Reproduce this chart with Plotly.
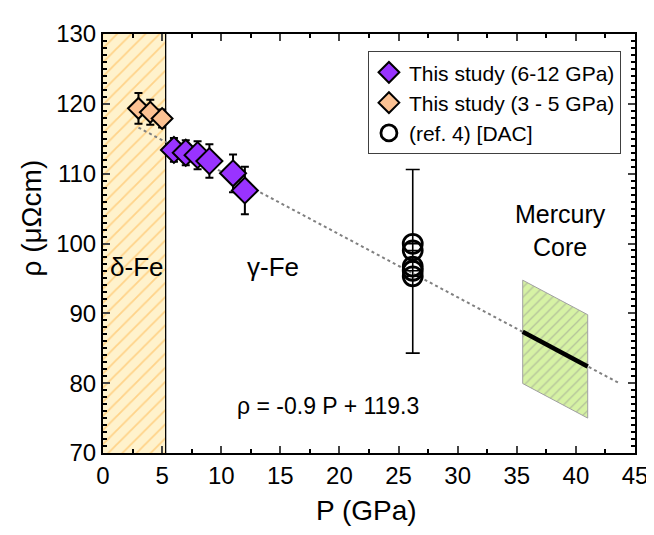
import plotly.graph_objects as go

# Data
p_high = [6, 7, 8, 9, 11, 12]
rho_high = [113.4, 113.0, 112.65, 111.8, 110.05, 107.6]
err_high = [1.7, 1.8, 2.0, 2.4, 2.7, 3.4]

p_low = [3, 4, 5]
rho_low = [119.35, 118.8, 117.9]
err_low = [2.2, 1.8, 1.3]

p_dac = [26.2, 26.2, 26.2, 26.2, 26.2]
rho_dac = [99.96, 99.0, 96.7, 96.1, 95.3]
err_dac_plus = [0, 0, 13.9, 0, 0]
err_dac_minus = [0, 0, 12.4, 0, 0]

fit_slope = -0.9
fit_intercept = 119.3
fit_range = [3, 43.7]

delta_range = [0, 5.3]
mercury_range = [35.5, 41.0]
mercury_halfwidth = 7.4

font = "Liberation Sans, Arial, sans-serif"
fig = go.Figure()

# delta-Fe hatched region
fig.add_trace(go.Scatter(
    x=[delta_range[0], delta_range[1], delta_range[1], delta_range[0], delta_range[0]],
    y=[70, 70, 130, 130, 70], mode="lines", fill="toself",
    line=dict(width=0, color="rgba(0,0,0,0)"),
    fillcolor="#fff2cc",
    fillpattern=dict(shape="/", fgcolor="#ffb445", bgcolor="#fff2cc", size=10, solidity=0.18),
    showlegend=False, hoverinfo="skip"))
fig.add_trace(go.Scatter(x=[delta_range[1], delta_range[1]], y=[70, 130], mode="lines",
                         line=dict(color="black", width=1.3), showlegend=False, hoverinfo="skip"))

# Fit line
fx = fit_range
fy = [fit_slope * v + fit_intercept for v in fx]
fig.add_trace(go.Scatter(x=fx, y=fy, mode="lines", line=dict(color="#808080", width=2, dash="dot"),
                         showlegend=False, hoverinfo="skip"))

# Mercury core parallelogram
m0, m1 = mercury_range
y0 = fit_slope * m0 + fit_intercept
y1 = fit_slope * m1 + fit_intercept
fig.add_trace(go.Scatter(
    x=[m0, m1, m1, m0, m0],
    y=[y0 + mercury_halfwidth, y1 + mercury_halfwidth, y1 - mercury_halfwidth, y0 - mercury_halfwidth, y0 + mercury_halfwidth],
    mode="lines", fill="toself", line=dict(color="#a0a0a0", width=1),
    fillcolor="#d9f5a8",
    fillpattern=dict(shape="/", fgcolor="#909090", bgcolor="#d6f2a4", size=7, solidity=0.18),
    showlegend=False, hoverinfo="skip"))
fig.add_trace(go.Scatter(x=[m0, m1], y=[y0, y1], mode="lines", line=dict(color="black", width=4.5),
                         showlegend=False, hoverinfo="skip"))

# DAC circles
fig.add_trace(go.Scatter(
    x=p_dac, y=rho_dac, mode="markers", name="(ref. 4) [DAC]",
    marker=dict(symbol="circle-open", size=19, color="black", line=dict(width=2.8, color="black")),
    error_y=dict(type="data", symmetric=False, array=err_dac_plus, arrayminus=err_dac_minus,
                 color="black", thickness=1.6, width=7)))

# This study low
fig.add_trace(go.Scatter(
    x=p_low, y=rho_low, mode="markers", name="This study (3 - 5 GPa)",
    marker=dict(symbol="diamond", size=16, color="#fcc293", line=dict(width=2, color="black")),
    error_y=dict(type="data", array=err_low, color="black", thickness=2, width=4)))

# This study high
fig.add_trace(go.Scatter(
    x=p_high, y=rho_high, mode="markers", name="This study (6-12 GPa)",
    marker=dict(symbol="diamond", size=20, color="#9933ff", line=dict(width=2, color="black")),
    error_y=dict(type="data", array=err_high, color="black", thickness=2, width=4)))

ann = dict(showarrow=False, font=dict(family=font, size=26, color="black"))
fig.add_annotation(x=2.85, y=96.7, text="δ-Fe", **ann)
fig.add_annotation(x=14.4, y=96.7, text="γ-Fe", **ann)
fig.add_annotation(x=38.7, y=101.9, text="Mercury<br>Core",
                   showarrow=False, font=dict(family=font, size=25, color="black"))
fig.add_annotation(x=19.0, y=76.7, text="ρ = -0.9 P + 119.3", showarrow=False,
                   font=dict(family=font, size=23, color="black"))

# Axis titles
fig.add_annotation(xref="paper", yref="paper", x=0.495, y=-0.137, text="P (GPa)",
                   showarrow=False, xanchor="center", yanchor="middle",
                   font=dict(family=font, size=28, color="black"))
fig.add_annotation(xref="paper", yref="paper", x=-0.135, y=0.56, text="ρ (μΩcm)",
                   showarrow=False, xanchor="center", yanchor="middle", textangle=-90,
                   font=dict(family=font, size=28, color="black"))

fig.update_layout(
    width=654, height=535,
    margin=dict(l=95, r=27, t=15, b=90),
    plot_bgcolor="white", paper_bgcolor="white",
    font=dict(family=font, size=24, color="black"),
    legend=dict(x=0.498, y=0.959, xanchor="left", yanchor="top",
                bordercolor="#404040", borderwidth=1, bgcolor="white",
                font=dict(size=21), traceorder="reversed",
                itemsizing="trace", tracegroupgap=0),
    xaxis=dict(range=[0, 45], dtick=5, ticks="inside", ticklen=7, tickwidth=1.5,
               showline=True, linecolor="black", linewidth=2, mirror="allticks",
               showgrid=False, zeroline=False,
               minor=dict(dtick=2.5, ticks="inside", ticklen=4, tickcolor="black"),
               ),
    yaxis=dict(range=[70, 130], dtick=10, ticks="inside", ticklen=7, tickwidth=1.5,
               showline=True, linecolor="black", linewidth=2, mirror="allticks",
               showgrid=False, zeroline=False,
               minor=dict(dtick=1, ticks="inside", ticklen=4, tickcolor="black"),
               ),
)

fig.write_html("out.html")
